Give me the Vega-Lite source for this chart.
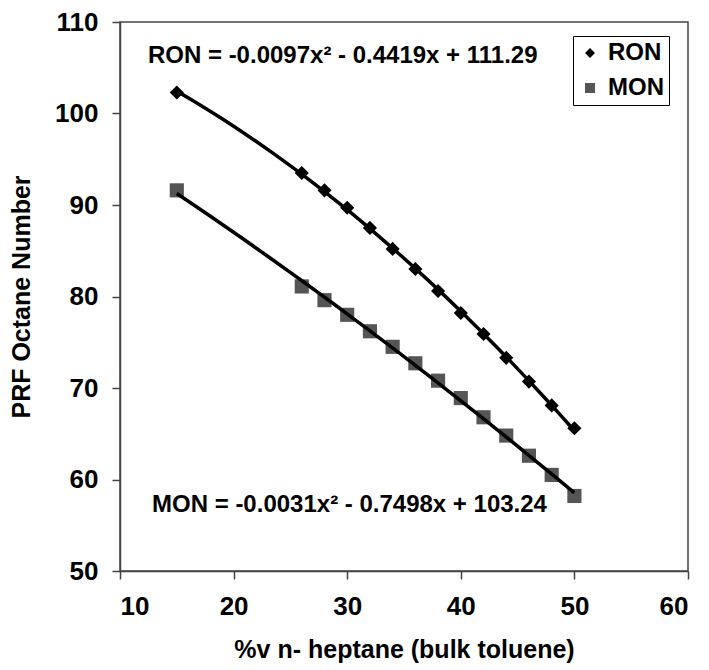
{
  "$schema": "https://vega.github.io/schema/vega-lite/v6.json",
  "width": 568,
  "height": 549,
  "autosize": {"type": "none"},
  "padding": {"left": 120, "top": 22, "right": 21, "bottom": 99},
  "background": "white",
  "config": {
    "font": "Liberation Sans",
    "view": {"stroke": "#444", "strokeWidth": 1.5},
    "axis": {
      "grid": false,
      "labelFont": "Liberation Sans",
      "labelFontSize": 26,
      "labelFontWeight": "bold",
      "labelColor": "black",
      "titleFont": "Liberation Sans",
      "titleFontSize": 25,
      "titleFontWeight": "bold",
      "titleColor": "black",
      "tickSize": 8,
      "tickColor": "#444",
      "tickWidth": 1.5,
      "domainColor": "#444",
      "domainWidth": 1.5
    }
  },
  "datasets": {
    "pts": [
      {"x": 15, "y": 102.3, "series": "RON"},
      {"x": 26, "y": 93.5, "series": "RON"},
      {"x": 28, "y": 91.6, "series": "RON"},
      {"x": 30, "y": 89.7, "series": "RON"},
      {"x": 32, "y": 87.5, "series": "RON"},
      {"x": 34, "y": 85.2, "series": "RON"},
      {"x": 36, "y": 83.0, "series": "RON"},
      {"x": 38, "y": 80.6, "series": "RON"},
      {"x": 40, "y": 78.2, "series": "RON"},
      {"x": 42, "y": 75.9, "series": "RON"},
      {"x": 44, "y": 73.3, "series": "RON"},
      {"x": 46, "y": 70.7, "series": "RON"},
      {"x": 48, "y": 68.1, "series": "RON"},
      {"x": 50, "y": 65.6, "series": "RON"},
      {"x": 15, "y": 91.6, "series": "MON"},
      {"x": 26, "y": 81.1, "series": "MON"},
      {"x": 28, "y": 79.6, "series": "MON"},
      {"x": 30, "y": 78.0, "series": "MON"},
      {"x": 32, "y": 76.2, "series": "MON"},
      {"x": 34, "y": 74.5, "series": "MON"},
      {"x": 36, "y": 72.7, "series": "MON"},
      {"x": 38, "y": 70.8, "series": "MON"},
      {"x": 40, "y": 68.9, "series": "MON"},
      {"x": 42, "y": 66.8, "series": "MON"},
      {"x": 44, "y": 64.8, "series": "MON"},
      {"x": 46, "y": 62.6, "series": "MON"},
      {"x": 48, "y": 60.5, "series": "MON"},
      {"x": 50, "y": 58.2, "series": "MON"}
    ],
    "eq": [
      {"x": 12.46, "y": 106.3, "label": "RON = -0.0097x² - 0.4419x + 111.29"},
      {"x": 12.82, "y": 57.2, "label": "MON = -0.0031x² - 0.7498x + 103.24"}
    ]
  },
  "layer": [
    {
      "data": {"name": "pts"},
      "mark": {"type": "point", "filled": true, "opacity": 1},
      "encoding": {
        "x": {
          "field": "x", "type": "quantitative",
          "scale": {"domain": [10, 60], "nice": false},
          "axis": {"values": [10, 20, 30, 40, 50, 60], "labelPadding": 14, "title": "%v n- heptane (bulk toluene)", "titlePadding": 18}
        },
        "y": {
          "field": "y", "type": "quantitative",
          "scale": {"domain": [50, 110], "nice": false, "zero": false},
          "axis": {"values": [50, 60, 70, 80, 90, 100, 110], "labelPadding": 14, "title": "PRF Octane Number", "titlePadding": 20}
        },
        "color": {
          "field": "series", "type": "nominal",
          "scale": {"domain": ["RON", "MON"], "range": ["#000000", "#555555"]},
          "legend": {
            "title": null, "orient": "none", "legendX": 453, "legendY": 14,
            "strokeColor": "black", "fillColor": "white", "padding": 5,
            "labelFont": "Liberation Sans", "labelFontSize": 24, "labelFontWeight": "bold", "labelColor": "black",
            "labelOffset": 6, "rowPadding": 11
          }
        },
        "shape": {
          "field": "series", "type": "nominal",
          "scale": {"domain": ["RON", "MON"], "range": ["diamond", "square"]},
          "legend": {
            "title": null, "orient": "none", "legendX": 453, "legendY": 14,
            "strokeColor": "black", "fillColor": "white", "padding": 5,
            "labelFont": "Liberation Sans", "labelFontSize": 24, "labelFontWeight": "bold", "labelColor": "black",
            "labelOffset": 6, "rowPadding": 11
          }
        },
        "size": {"value": 200}
      }
    },
    {
      "data": {"name": "pts"},
      "transform": [
        {"regression": "y", "on": "x", "groupby": ["series"], "method": "poly", "order": 2, "extent": [15, 50]}
      ],
      "mark": {"type": "line", "color": "black", "strokeWidth": 3.5},
      "encoding": {
        "x": {"field": "x", "type": "quantitative"},
        "y": {"field": "y", "type": "quantitative"},
        "detail": {"field": "series", "type": "nominal"}
      }
    },
    {
      "data": {"name": "eq"},
      "mark": {"type": "text", "align": "left", "baseline": "middle", "font": "Liberation Sans", "fontSize": 24, "fontWeight": "bold", "color": "black"},
      "encoding": {
        "x": {"field": "x", "type": "quantitative"},
        "y": {"field": "y", "type": "quantitative"},
        "text": {"field": "label"}
      }
    }
  ]
}
